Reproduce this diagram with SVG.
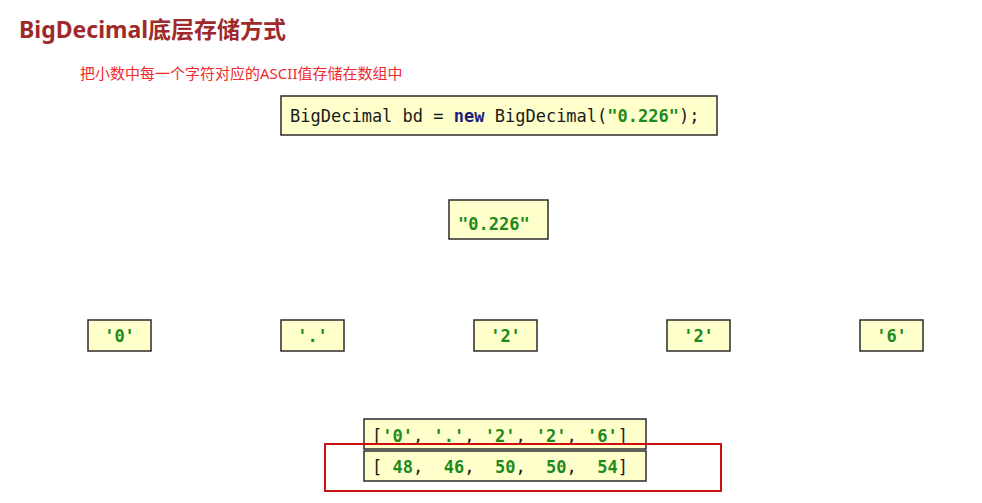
<svg xmlns="http://www.w3.org/2000/svg" width="982" height="503" viewBox="0 0 982 503">
<style>
.box{fill:#FFFFCC;stroke:#2b2b2b;stroke-width:1.5}
.code{font-family:"DejaVu Sans Mono","Liberation Mono",monospace;font-size:17px;fill:#1a1a1a;white-space:pre}
.str{fill:#1E8A1E;font-weight:bold}
.kw{fill:#1F1F7A;font-weight:bold}
.ch{font-family:"DejaVu Sans Mono","Liberation Mono",monospace;font-size:17px;fill:#1E8A1E;font-weight:bold;text-anchor:middle}
</style>
<rect width="982" height="503" fill="#ffffff"/>
<text x="19" y="38" font-family="'Noto Sans','Noto Sans CJK SC',sans-serif" font-size="23" font-weight="bold" fill="#9E2A2B">BigDecimal底层存储方式</text>
<text x="80" y="79" font-family="'Noto Sans','Noto Sans CJK SC',sans-serif" font-size="15" fill="#EE2A2E">把小数中每一个字符对应的ASCII值存储在数组中</text>
<g id="code">
<rect class="box" x="281" y="96" width="436" height="39"/>
<text class="code" x="290" y="122">BigDecimal bd = <tspan class="kw">new</tspan> BigDecimal(<tspan class="str">"0.226"</tspan>);</text>
</g>
<g id="str">
<rect class="box" x="449" y="200" width="99" height="39"/>
<text class="code str" x="458" y="230">"0.226"</text>
</g>
<g id="c0"><rect class="box" x="88" y="320" width="63" height="31"/><text class="ch" x="119.5" y="342">'0'</text></g>
<g id="c1"><rect class="box" x="281" y="320" width="63" height="31"/><text class="ch" x="312.5" y="342">'.'</text></g>
<g id="c2"><rect class="box" x="474" y="320" width="63" height="31"/><text class="ch" x="505.5" y="342">'2'</text></g>
<g id="c3"><rect class="box" x="667" y="320" width="63" height="31"/><text class="ch" x="698.5" y="342">'2'</text></g>
<g id="c4"><rect class="box" x="860" y="320" width="63" height="31"/><text class="ch" x="891.5" y="342">'6'</text></g>
<g id="arr">
<rect class="box" x="364" y="419" width="282" height="30"/>
<rect class="box" x="364" y="451" width="282" height="30"/>
<text class="code" x="372" y="442" xml:space="preserve">[<tspan class="str">'0'</tspan>, <tspan class="str">'.'</tspan>, <tspan class="str">'2'</tspan>, <tspan class="str">'2'</tspan>, <tspan class="str">'6'</tspan>]</text>
<text class="code" x="372" y="473" xml:space="preserve">[ <tspan class="str">48</tspan>,  <tspan class="str">46</tspan>,  <tspan class="str">50</tspan>,  <tspan class="str">50</tspan>,  <tspan class="str">54</tspan>]</text>
</g>
<g id="highlight">
<rect x="325" y="444" width="396" height="47" fill="none" stroke="#CC1111" stroke-width="2"/>
</g>
<g id="connectors"></g>
</svg>
